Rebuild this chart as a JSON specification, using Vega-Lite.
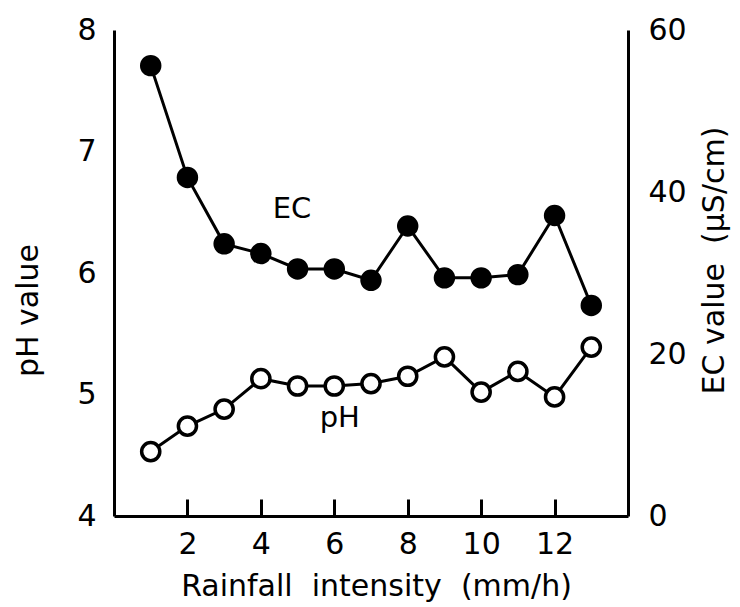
{
  "$schema": "https://vega.github.io/schema/vega-lite/v6.json",
  "width": 514,
  "height": 486,
  "autosize": "none",
  "padding": {"left": 114, "top": 30, "right": 112, "bottom": 91},
  "background": "white",
  "config": {
    "view": {"stroke": null},
    "font": "DejaVu Sans",
    "axis": {
      "grid": false,
      "ticks": false,
      "domainColor": "black",
      "domainWidth": 3,
      "labelFont": "DejaVu Sans",
      "labelFontSize": 30,
      "labelColor": "black",
      "titleFont": "DejaVu Sans",
      "titleFontSize": 30,
      "titleFontWeight": "normal",
      "titleColor": "black",
      "titleAlign": "center",
      "titleBaseline": "middle"
    }
  },
  "datasets": {
    "main": [
      {"x": 1, "pH": 4.53, "EC": 55.6},
      {"x": 2, "pH": 4.74, "EC": 41.8},
      {"x": 3, "pH": 4.88, "EC": 33.6},
      {"x": 4, "pH": 5.13, "EC": 32.4},
      {"x": 5, "pH": 5.07, "EC": 30.5},
      {"x": 6, "pH": 5.07, "EC": 30.5},
      {"x": 7, "pH": 5.09, "EC": 29.1},
      {"x": 8, "pH": 5.15, "EC": 35.8},
      {"x": 9, "pH": 5.31, "EC": 29.4},
      {"x": 10, "pH": 5.02, "EC": 29.4},
      {"x": 11, "pH": 5.19, "EC": 29.8},
      {"x": 12, "pH": 4.98, "EC": 37.1},
      {"x": 13, "pH": 5.39, "EC": 26.0}
    ],
    "labels": [
      {"x": 4.85, "pH": 6.53, "label": "EC"},
      {"x": 6.15, "pH": 4.81, "label": "pH"}
    ]
  },
  "layer": [
    {
      "encoding": {
        "x": {
          "field": "x", "type": "quantitative",
          "scale": {"domain": [0, 14], "nice": false, "zero": false},
          "axis": {"values": [2, 4, 6, 8, 10, 12], "labelExpr": "datum.value", "title": "Rainfall\u00a0\u00a0intensity\u00a0\u00a0(mm/h)", "labelPadding": 13, "titleX": 262, "titleY": 70, "grid": true, "gridColor": "black", "gridOpacity": 1, "gridWidth": 3, "gridDash": [0, 469, 17, 2000]}
        },
        "y": {
          "field": "pH", "type": "quantitative",
          "scale": {"domain": [4, 8], "nice": false, "zero": false},
          "axis": {"values": [4, 5, 6, 7, 8], "title": "pH\u00a0value", "labelPadding": 18, "titleX": -86, "titleY": 280, "grid": false}
        }
      },
      "layer": [
        {"data": {"name": "main"}, "mark": {"type": "line", "color": "black", "strokeWidth": 3}},
        {"data": {"name": "main"}, "mark": {"type": "point", "shape": "circle", "filled": true, "fill": "white", "stroke": "black", "strokeWidth": 3.5, "size": 330, "opacity": 1}},
        {"data": {"name": "labels"}, "mark": {"type": "text", "fontSize": 29, "font": "DejaVu Sans", "color": "black", "baseline": "middle", "align": "center"}, "encoding": {"text": {"field": "label"}}}
      ]
    },
    {
      "data": {"name": "main"},
      "encoding": {
        "x": {"field": "x", "type": "quantitative"},
        "y": {
          "field": "EC", "type": "quantitative",
          "scale": {"domain": [0, 60], "nice": false},
          "axis": {"orient": "right", "values": [0, 20, 40, 60], "title": "EC\u00a0value\u00a0\u00a0(μS/cm)", "titleAngle": 270, "labelPadding": 20, "titleX": 86, "titleY": 230, "grid": false}
        }
      },
      "layer": [
        {"mark": {"type": "line", "color": "black", "strokeWidth": 3}},
        {"mark": {"type": "point", "shape": "circle", "filled": true, "color": "black", "size": 460, "opacity": 1}}
      ]
    }
  ],
  "resolve": {"scale": {"y": "independent"}}
}
